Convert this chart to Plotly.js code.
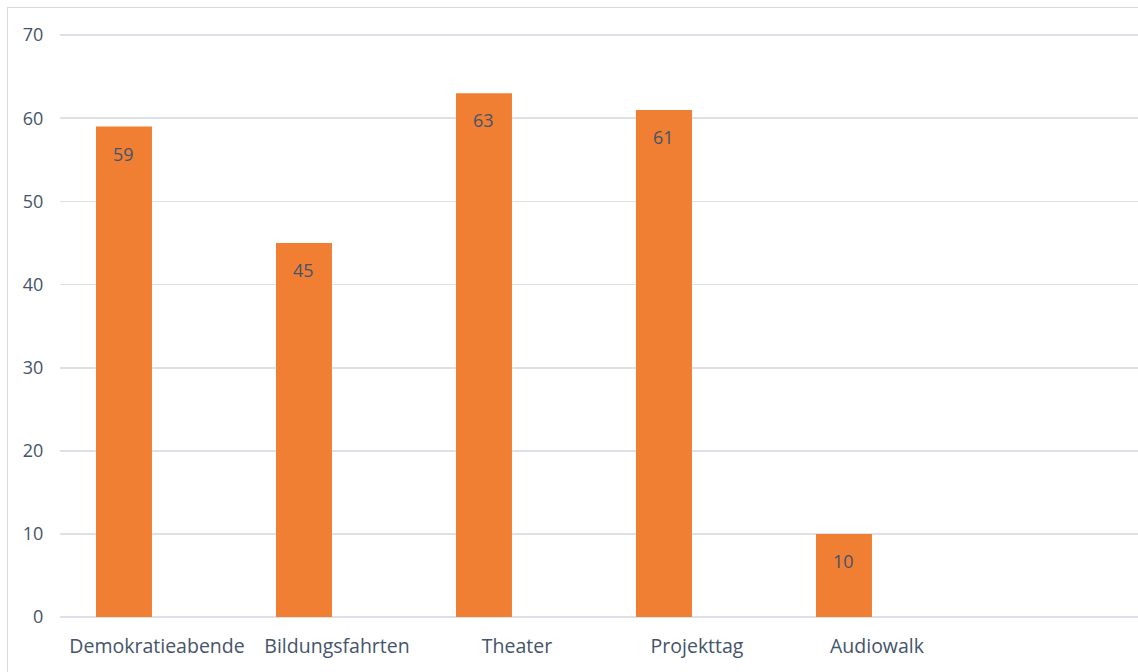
<!DOCTYPE html>
<html>
<head>
<meta charset="utf-8">
<script src="https://cdn.plot.ly/plotly-3.0.1.min.js"></script>
<style>
  html, body { margin: 0; padding: 0; background: #fff; }
  #frame { position: absolute; left: 7px; top: 7px; width: 1200px; height: 700px; border: 1.5px solid #d9d9d9; box-sizing: border-box; }
  #chart { position: absolute; left: 0; top: 0; width: 1138px; height: 672px; }
</style>
</head>
<body>
<div id="frame"></div>
<div id="chart"></div>
<script>
const categories = ["Demokratieabende", "Bildungsfahrten", "Theater", "Projekttag", "Audiowalk", ""];
const values = [59, 45, 63, 61, 10, null];
const valueLabels = ["59", "45", "63", "61", "10", ""];
const yTicks = [0, 10, 20, 30, 40, 50, 60, 70];

const textColor = "#44546a";
const fontFamily = "Open Sans, sans-serif";
const barWidth = 0.311;
const barOffset = -0.339;

const trace = {
  type: "bar",
  x: categories.map((c, i) => i),
  y: values,
  width: barWidth,
  offset: barOffset,
  marker: { color: "#f17f33", line: { width: 0 } },
  hoverinfo: "skip"
};

const annotations = values
  .map((v, i) => v == null ? null : {
    x: i + barOffset + barWidth / 2,
    y: v,
    xref: "x",
    yref: "y",
    text: valueLabels[i],
    showarrow: false,
    yanchor: "middle",
    yshift: -27,
    font: { family: fontFamily, size: 18, color: textColor }
  })
  .filter(a => a);

const layout = {
  width: 1138,
  height: 672,
  margin: { l: 60, r: 0, t: 31, b: 55 },
  paper_bgcolor: "rgba(0,0,0,0)",
  plot_bgcolor: "rgba(0,0,0,0)",
  showlegend: false,
  font: { family: fontFamily, color: textColor, size: 18 },
  annotations: annotations,
  xaxis: {
    range: [-0.539, 5.45],
    tickmode: "array",
    tickvals: categories.map((c, i) => i),
    ticktext: categories,
    showgrid: false,
    zeroline: false,
    showline: false,
    ticks: "outside",
    ticklen: 12,
    tickcolor: "rgba(0,0,0,0)",
    tickfont: { family: fontFamily, size: 19.5, color: textColor },
    fixedrange: true
  },
  yaxis: {
    range: [0, 70.5],
    tickmode: "array",
    tickvals: yTicks,
    showgrid: true,
    gridcolor: "#dde1e7",
    gridwidth: 1.8,
    zeroline: true,
    zerolinecolor: "#dde1e7",
    zerolinewidth: 1.8,
    showline: false,
    ticks: "outside",
    ticklen: 12,
    tickcolor: "rgba(0,0,0,0)",
    tickfont: { family: fontFamily, size: 18, color: textColor },
    fixedrange: true
  }
};

Plotly.newPlot("chart", [trace], layout, { displayModeBar: false, staticPlot: true });
</script>
</body>
</html>
